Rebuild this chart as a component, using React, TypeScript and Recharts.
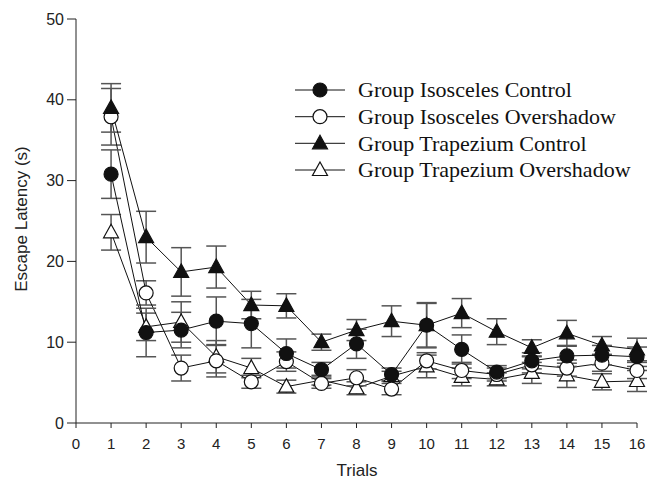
import React from 'react';
import { LineChart, Line, XAxis, YAxis, ErrorBar, Customized } from 'recharts';

const trials = [1, 2, 3, 4, 5, 6, 7, 8, 9, 10, 11, 12, 13, 14, 15, 16];
const xTicks = [0, 1, 2, 3, 4, 5, 6, 7, 8, 9, 10, 11, 12, 13, 14, 15, 16];
const yTicks = [0, 10, 20, 30, 40, 50];

const isoControl = [30.8, 11.2, 11.5, 12.6, 12.3, 8.6, 6.6, 9.8, 6.0, 12.1, 9.1, 6.3, 7.7, 8.3, 8.4, 8.2];
const isoControlErr = [3.0, 3.0, 2.2, 3.0, 3.0, 1.8, 0.9, 1.8, 0.8, 2.8, 1.8, 0.8, 1.0, 1.3, 1.2, 1.2];
const isoOver = [37.9, 16.1, 6.8, 7.7, 5.1, 7.6, 4.9, 5.6, 4.2, 7.7, 6.5, 6.0, 7.2, 6.8, 7.4, 6.5];
const isoOverErr = [3.5, 1.5, 1.6, 2.0, 0.8, 1.2, 0.6, 1.0, 0.7, 1.0, 1.0, 0.8, 1.0, 1.0, 1.0, 1.0];
const trapControl = [39.0, 23.0, 18.7, 19.3, 14.6, 14.5, 10.0, 11.5, 12.6, 12.1, 13.6, 11.3, 9.3, 11.1, 9.6, 9.1];
const trapControlErr = [3.0, 3.2, 3.0, 2.6, 1.7, 1.5, 1.0, 1.3, 1.9, 2.7, 1.8, 1.6, 1.0, 1.6, 1.1, 1.4];
const trapOver = [23.6, 11.9, 12.5, 8.2, 6.8, 4.5, 5.3, 4.3, 5.8, 7.0, 5.7, 5.4, 6.2, 5.9, 5.1, 5.2];
const trapOverErr = [2.2, 1.7, 2.5, 2.0, 1.2, 0.8, 0.6, 0.8, 0.6, 1.4, 1.1, 0.8, 1.3, 1.5, 1.0, 1.3];

const legendLabels = [
  'Group Isosceles Control',
  'Group Isosceles Overshadow',
  'Group Trapezium Control',
  'Group Trapezium Overshadow',
];

const data = trials.map((t, i) => ({
  trial: t,
  ic: isoControl[i],
  icErr: isoControlErr[i],
  io: isoOver[i],
  ioErr: isoOverErr[i],
  tc: trapControl[i],
  tcErr: trapControlErr[i],
  to: trapOver[i],
  toErr: trapOverErr[i],
}));

const INK = '#111';
const SANS = '"Liberation Sans", Arial, Helvetica, sans-serif';
const SERIF = '"Liberation Serif", "Times New Roman", serif';

type Kind = 'fc' | 'oc' | 'ft' | 'ot';

const marker = (kind: Kind, cx: number, cy: number, key?: any) => {
  if (kind === 'fc' || kind === 'oc') {
    return (
      <circle key={key} cx={cx} cy={cy} r={7} fill={kind === 'fc' ? INK : '#fff'} stroke={INK} strokeWidth={1.2} />
    );
  }
  const pts = `${cx},${cy - 8} ${cx + 7.5},${cy + 5.5} ${cx - 7.5},${cy + 5.5}`;
  return <polygon key={key} points={pts} fill={kind === 'ft' ? INK : '#fff'} stroke={INK} strokeWidth={1.2} />;
};

const dotFor = (kind: Kind) => (props: any) => {
  const { cx, cy, key, index } = props;
  if (cx == null || cy == null) return <g key={key ?? index} />;
  return marker(kind, cx, cy, key ?? `${kind}-${index}`);
};

const Decorations = () => {
  const rows = [90, 116.7, 143.3, 170];
  const kinds: Kind[] = ['fc', 'oc', 'ft', 'ot'];
  return (
    <g>
      <text
        x={27}
        y={219}
        transform="rotate(-90, 27, 219)"
        textAnchor="middle"
        fontFamily={SANS}
        fontSize={17}
        fill="#222"
      >
        Escape Latency (s)
      </text>
      <text x={357} y={476} textAnchor="middle" fontFamily={SANS} fontSize={17} fill="#222">
        Trials
      </text>
      {rows.map((y, i) => (
        <g key={i}>
          <line x1={295} x2={345} y1={y} y2={y} stroke={INK} strokeWidth={1} />
          {marker(kinds[i], 320, y)}
          <text x={358} y={y + 7.3} fontFamily={SERIF} fontSize={22} fill={INK}>
            {legendLabels[i]}
          </text>
        </g>
      ))}
    </g>
  );
};

export default function App() {
  const tickStyle = { fontSize: 15, fill: '#222', fontFamily: SANS };
  return (
    <div style={{ position: 'absolute', left: 0, top: 0, width: 657, height: 480, background: '#fff' }}>
      <LineChart width={657} height={480} data={data} margin={{ top: 19, right: 20, left: 0, bottom: 0 }}>
        <XAxis
          type="number"
          dataKey="trial"
          domain={[0, 16]}
          ticks={xTicks}
          interval={0}
          height={57}
          tickSize={5}
          tickMargin={10}
          axisLine={{ stroke: '#222' }}
          tickLine={{ stroke: '#222' }}
          tick={tickStyle}
        />
        <YAxis
          type="number"
          domain={[0, 50]}
          ticks={yTicks}
          interval={0}
          width={76}
          tickSize={9}
          tickMargin={3}
          axisLine={{ stroke: '#222' }}
          tickLine={{ stroke: '#222' }}
          tick={{ ...tickStyle, fontSize: 16 }}
        />
        <Line type="linear" dataKey="to" stroke={INK} strokeWidth={1} dot={dotFor('ot')} activeDot={false} isAnimationActive={false}>
          <ErrorBar dataKey="toErr" width={10} stroke="#555" strokeWidth={1.5} direction="y" />
        </Line>
        <Line type="linear" dataKey="io" stroke={INK} strokeWidth={1} dot={dotFor('oc')} activeDot={false} isAnimationActive={false}>
          <ErrorBar dataKey="ioErr" width={10} stroke="#555" strokeWidth={1.5} direction="y" />
        </Line>
        <Line type="linear" dataKey="tc" stroke={INK} strokeWidth={1} dot={dotFor('ft')} activeDot={false} isAnimationActive={false}>
          <ErrorBar dataKey="tcErr" width={10} stroke="#555" strokeWidth={1.5} direction="y" />
        </Line>
        <Line type="linear" dataKey="ic" stroke={INK} strokeWidth={1} dot={dotFor('fc')} activeDot={false} isAnimationActive={false}>
          <ErrorBar dataKey="icErr" width={10} stroke="#555" strokeWidth={1.5} direction="y" />
        </Line>
        <Customized component={<Decorations />} />
      </LineChart>
    </div>
  );
}
